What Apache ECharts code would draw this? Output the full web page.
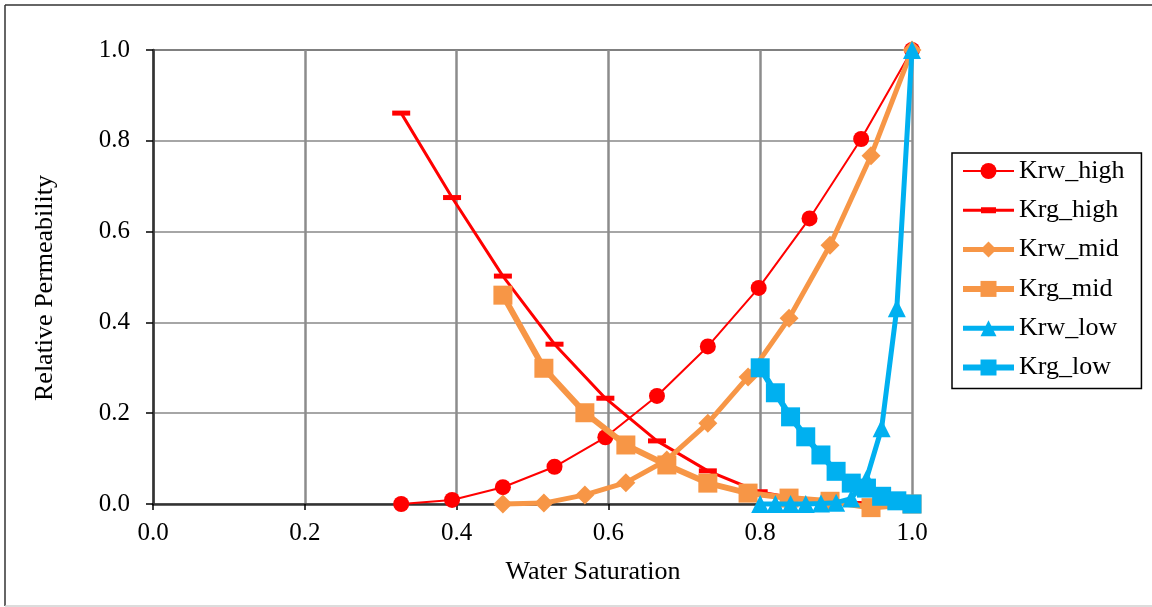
<!DOCTYPE html>
<html>
<head>
<meta charset="utf-8">
<script src="https://cdn.jsdelivr.net/npm/echarts@6/dist/echarts.min.js"></script>
<style>
html,body{margin:0;padding:0;background:#fff;}
#chart{width:1152px;height:607px;}
</style>
</head>
<body>
<div id="chart"></div>
<script>
var xTicks = [0.0, 0.2, 0.4, 0.6, 0.8, 1.0];
var yTicks = [0.0, 0.2, 0.4, 0.6, 0.8, 1.0];

var swHigh  = [0.327, 0.394, 0.461, 0.529, 0.596, 0.664, 0.731, 0.798, 0.865, 0.933, 1.0];
var krwHigh = [0.0, 0.009, 0.037, 0.082, 0.147, 0.238, 0.347, 0.476, 0.629, 0.804, 1.0];
var krgHigh = [0.861, 0.675, 0.502, 0.352, 0.233, 0.139, 0.073, 0.027, 0.007, 0.001, 0.0];

var swMid   = [0.461, 0.515, 0.569, 0.623, 0.677, 0.731, 0.784, 0.838, 0.892, 0.946, 1.0];
var krwMid  = [0.0, 0.002, 0.020, 0.047, 0.097, 0.178, 0.280, 0.409, 0.570, 0.767, 1.0];
var krgMid  = [0.460, 0.299, 0.201, 0.130, 0.086, 0.046, 0.024, 0.013, 0.006, -0.008, 0.0];

var swLow   = [0.80, 0.82, 0.84, 0.86, 0.88, 0.90, 0.92, 0.94, 0.96, 0.98, 1.0];
var krwLow  = [0.0, 0.0, 0.0, 0.0, 0.001, 0.003, 0.012, 0.055, 0.167, 0.431, 1.0];
var krgLow  = [0.30, 0.245, 0.192, 0.148, 0.108, 0.072, 0.046, 0.035, 0.017, 0.007, 0.0];

var seriesNames = ['Krw_high', 'Krg_high', 'Krw_mid', 'Krg_mid', 'Krw_low', 'Krg_low'];

function pairs(xs, ys) { return xs.map(function (x, i) { return [x, ys[i]]; }); }

var RED = '#FF0000', ORANGE = '#F79646', BLUE = '#00B0F0';
var FONT = 'Liberation Serif';

var chart = echarts.init(document.getElementById('chart'), null, {renderer: 'canvas'});

function lineSeries(name, data, color, lw, symbol, size, z) {
  return {
    name: name, type: 'line', data: data, clip: false, z: z,
    symbol: symbol, symbolSize: size, showAllSymbol: true,
    lineStyle: {color: color, width: lw},
    itemStyle: {color: color},
    emphasis: {disabled: true},
    animation: false
  };
}

var option = {
  backgroundColor: '#fff',
  animation: false,
  grid: {left: 153, right: 240, top: 50, bottom: 103, containLabel: false},
  xAxis: {
    type: 'value', min: 0, max: 1, interval: 0.2,
    axisLine: {show: true, onZero: false, lineStyle: {color: '#333', width: 2.5}},
    axisTick: {show: true, length: 6, lineStyle: {color: '#000', width: 1.5}},
    axisLabel: {margin: 17, color: '#000', fontFamily: FONT, fontSize: 25,
      formatter: function (v) { return v.toFixed(1); }},
    splitLine: {show: true, lineStyle: {color: '#8C8C8C', width: 2.5}}
  },
  yAxis: {
    type: 'value', min: 0, max: 1, interval: 0.2,
    axisLine: {show: true, onZero: false, lineStyle: {color: '#333', width: 2.5}},
    axisTick: {show: true, length: 7, lineStyle: {color: '#000', width: 1.5}},
    axisLabel: {margin: 23, color: '#000', fontFamily: FONT, fontSize: 25,
      formatter: function (v) { return v.toFixed(1); }},
    splitLine: {show: true, lineStyle: {color: ['#A6A6A6', '#A6A6A6', '#A6A6A6', '#A6A6A6', '#A6A6A6', '#808080'], width: 2}}
  },
  legend: {
    orient: 'vertical', left: 952, top: 153,
    padding: [5, 17, 8, 8],
    borderColor: '#000', borderWidth: 1.5, backgroundColor: '#fff',
    itemWidth: 51, itemHeight: 20, itemGap: 13.3,
    textStyle: {fontFamily: FONT, fontSize: 26, color: '#000', lineHeight: 25},
    data: [
      {name: seriesNames[0], lineStyle: {width: 2}},
      {name: seriesNames[1], icon: 'path://M0,8 L51,8 L51,11 L0,11 Z M18,6.5 L33,6.5 L33,12.5 L18,12.5 Z'},
      {name: seriesNames[2], lineStyle: {width: 5}},
      {name: seriesNames[3], lineStyle: {width: 6}},
      {name: seriesNames[4], lineStyle: {width: 5}},
      {name: seriesNames[5], lineStyle: {width: 6}}
    ],
    selectedMode: false
  },
  graphic: [
    {type: 'line', silent: true, z: -10, shape: {x1: 5, y1: 5, x2: 1152, y2: 5},
      style: {stroke: '#333', lineWidth: 1.5}},
    {type: 'line', silent: true, z: -10, shape: {x1: 5, y1: 5, x2: 5, y2: 606},
      style: {stroke: '#333', lineWidth: 1.5}},
    {type: 'line', silent: true, z: -10, shape: {x1: 5, y1: 606, x2: 1152, y2: 606},
      style: {stroke: '#D0D0D0', lineWidth: 1.5}},
    {type: 'text', silent: true, x: 593, y: 572,
      style: {text: 'Water Saturation', fontFamily: FONT, fontSize: 26, fill: '#000', align: 'center', verticalAlign: 'middle'}},
    {type: 'text', silent: true, x: 45, y: 288, rotation: Math.PI / 2,
      style: {text: 'Relative Permeability', fontFamily: FONT, fontSize: 26, fill: '#000', align: 'center', verticalAlign: 'middle'}}
  ],
  series: [
    lineSeries(seriesNames[0], pairs(swHigh, krwHigh), RED, 2, 'circle', 16, 2),
    lineSeries(seriesNames[1], pairs(swHigh, krgHigh), RED, 3, 'rect', [18, 5], 3),
    lineSeries(seriesNames[2], pairs(swMid, krwMid), ORANGE, 5, 'diamond', 19, 4),
    lineSeries(seriesNames[3], pairs(swMid, krgMid), ORANGE, 6, 'rect', 19, 5),
    lineSeries(seriesNames[4], pairs(swLow, krwLow), BLUE, 5, 'triangle', 18, 6),
    lineSeries(seriesNames[5], pairs(swLow, krgLow), BLUE, 6, 'rect', 19, 7)
  ]
};
chart.setOption(option);
</script>
</body>
</html>
